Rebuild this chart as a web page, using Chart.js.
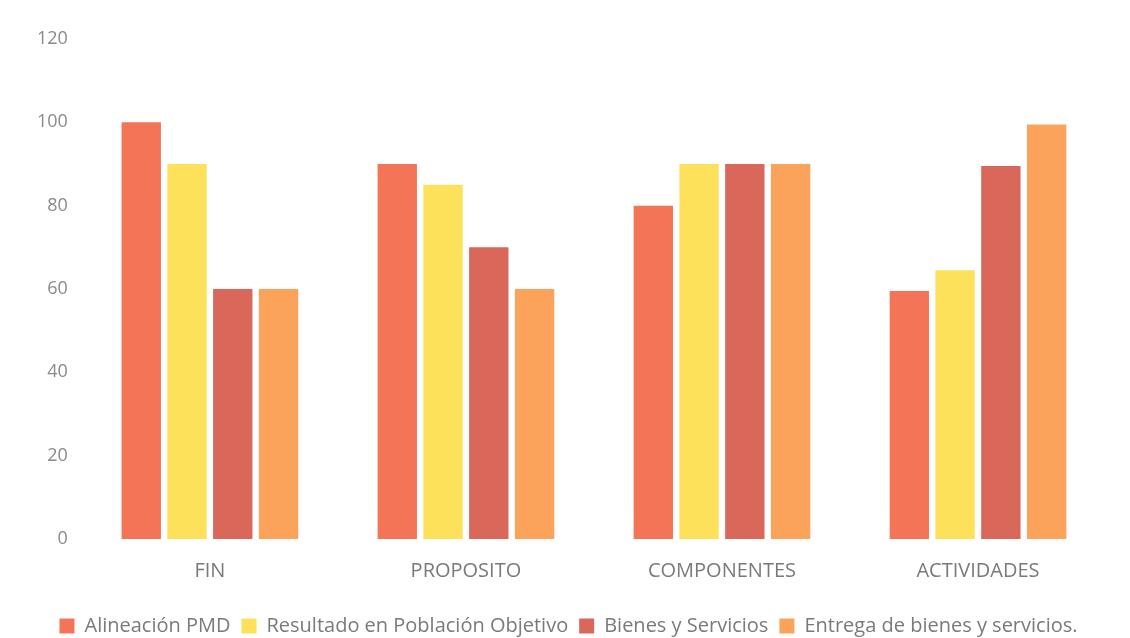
<!DOCTYPE html>
<html lang="es">
<head>
    <meta charset="UTF-8">
    <title>Evaluación</title>
    <script src="https://cdn.jsdelivr.net/npm/chart.js"></script>
    <style>
        html, body { margin: 0; padding: 0; background: #fff; }
        #wrap { width: 1130px; height: 638px; position: relative; }
    </style>
</head>
<body>
    <div id="wrap"><canvas id="chart"></canvas></div>
    <script>
        const categories = ['FIN', 'PROPOSITO', 'COMPONENTES', 'ACTIVIDADES'];
        const seriesNames = ['Alineación PMD', 'Resultado en Población Objetivo', 'Bienes y Servicios', 'Entrega de bienes y servicios.'];
        const alineacion = [100, 90, 80, 59.5];
        const resultado = [90, 85, 90, 64.5];
        const bienes = [60, 70, 90, 89.5];
        const entrega = [60, 60, 90, 99.5];
        const yTicks = [0, 20, 40, 60, 80, 100, 120];
        const colors = ['#F47458', '#FDE15A', '#D9675A', '#FBA35A'];

        const values = [alineacion, resultado, bienes, entrega];

        // pull the legend a little lower, closer to the bottom edge
        const legendShift = {
            id: 'legendShift',
            beforeInit(chart) {
                const fit = chart.legend.fit;
                chart.legend.fit = function () {
                    fit.call(this);
                    this.height -= 8;
                };
            }
        };

        new Chart(document.getElementById('chart'), {
            type: 'bar',
            data: {
                labels: categories,
                datasets: values.map((d, i) => ({
                    label: seriesNames[i],
                    data: d,
                    backgroundColor: colors[i],
                    barPercentage: 0.86,
                    categoryPercentage: 0.715
                }))
            },
            options: {
                responsive: true,
                maintainAspectRatio: false,
                animation: false,
                layout: { padding: { top: 39, left: 31, right: 24, bottom: 0 } },
                plugins: {
                    tooltip: { enabled: false },
                    legend: {
                        position: 'bottom',
                        labels: {
                            boxWidth: 15,
                            boxHeight: 15,
                            padding: 11,
                            color: '#7a7a7a',
                            font: { family: 'Open Sans', size: 20 }
                        }
                    }
                },
                scales: {
                    x: {
                        grid: { display: false },
                        border: { display: false },
                        afterFit: (axis) => { axis.height += 10; },
                        ticks: { color: '#7a7a7a', padding: 12, font: { family: 'Open Sans', size: 20 } }
                    },
                    y: {
                        min: 0,
                        max: 120,
                        grid: { display: false },
                        border: { display: false },
                        afterBuildTicks: (axis) => { axis.ticks = yTicks.map(v => ({ value: v })); },
                        ticks: { color: '#8a8a8a', padding: 6, font: { family: 'Open Sans', size: 18 } }
                    }
                }
            },
            plugins: [legendShift]
        });
    </script>
</body>
</html>
